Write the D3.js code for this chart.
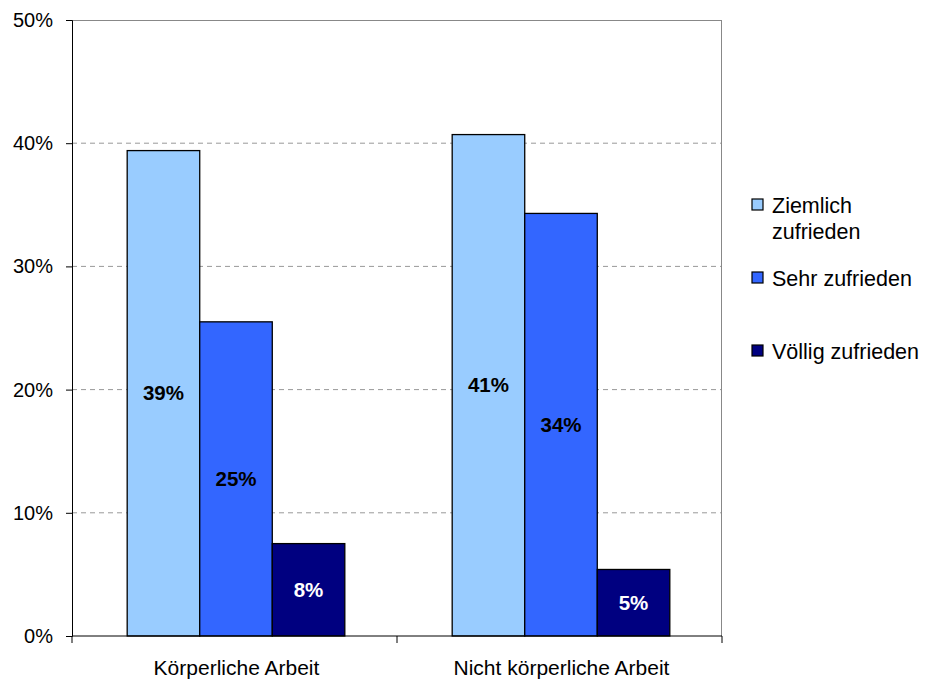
<!DOCTYPE html>
<html><head><meta charset="utf-8">
<script src="https://cdn.jsdelivr.net/npm/d3@7"></script>
<style>body{margin:0;background:#fff;} svg{display:block;font-family:"Liberation Sans",Arial,sans-serif;}</style>
</head><body>
<svg id="c" width="929" height="681"></svg>
<script>
const categories = ["Körperliche Arbeit", "Nicht körperliche Arbeit"];
const series = ["Ziemlich zufrieden", "Sehr zufrieden", "Völlig zufrieden"];
const legendLines = [["Ziemlich", "zufrieden"], ["Sehr zufrieden"], ["Völlig zufrieden"]];
const ziemlich = [39.4, 40.7];
const sehr = [25.5, 34.3];
const voellig = [7.5, 5.4];
const labels = [["39%", "41%"], ["25%", "34%"], ["8%", "5%"]];
const yTicks = [0, 10, 20, 30, 40, 50];
const colors = ["#99CCFF", "#3366FF", "#000080"];
const labelColors = ["#000", "#000", "#fff"];
const values = [ziemlich, sehr, voellig];

const svg = d3.select("#c");
const L = 72, R = 722, T = 20, B = 636;
const y = d3.scaleLinear().domain([0, 50]).range([B, T]);
const x0 = d3.scaleBand().domain(categories).range([L, R]).padding(0);
const x1 = d3.scaleBand().domain(series).range([1.5, x0.bandwidth() + 1.5]).paddingInner(0).paddingOuter(0.74);

// gridlines
svg.append("g").selectAll("line").data(yTicks.filter(t => t > 0 && t < 50)).join("line")
  .attr("x1", L).attr("x2", R).attr("y1", d => y(d)).attr("y2", d => y(d))
  .attr("stroke", "#999").attr("stroke-dasharray", "5,4").attr("stroke-width", 1);
// top & right border
svg.append("line").attr("x1", L).attr("x2", R).attr("y1", T + 0.5).attr("y2", T + 0.5).attr("stroke", "#888");
svg.append("line").attr("x1", R - 0.5).attr("x2", R - 0.5).attr("y1", T).attr("y2", B).attr("stroke", "#888");

// bars
series.forEach((s, si) => {
  const g = svg.append("g");
  g.selectAll("rect").data(categories).join("rect")
    .attr("x", c => x0(c) + x1(s))
    .attr("y", (c, ci) => y(values[si][ci]))
    .attr("width", x1.bandwidth())
    .attr("height", (c, ci) => B - y(values[si][ci]))
    .attr("fill", colors[si]).attr("stroke", "#000").attr("stroke-width", 1.3);
  g.selectAll("text").data(categories).join("text")
    .attr("x", c => x0(c) + x1(s) + x1.bandwidth() / 2)
    .attr("y", (c, ci) => (y(values[si][ci]) + B) / 2)
    .attr("dy", "0.35em").attr("text-anchor", "middle")
    .attr("font-size", 20.5).attr("font-weight", "bold")
    .attr("fill", labelColors[si])
    .text((c, ci) => labels[si][ci]);
});

// y axis
const yAxis = d3.axisLeft(y).tickValues(yTicks).tickFormat(d => d + "%").tickSize(6).tickPadding(13);
const ya = svg.append("g").attr("transform", `translate(${L},0)`).call(yAxis);
ya.select(".domain").attr("stroke", "#000");
ya.selectAll(".tick line").attr("stroke", "#000");
ya.selectAll("text").attr("font-size", 20).attr("fill", "#000").attr("font-family", "Liberation Sans, Arial, sans-serif");

// x axis
const xa = svg.append("g").attr("transform", `translate(0,${B})`);
xa.append("line").attr("x1", L).attr("x2", R).attr("stroke", "#000");
const bounds = [L, x0(categories[1]), R];
xa.selectAll("line.tk").data(bounds).join("line").attr("class", "tk")
  .attr("x1", d => d).attr("x2", d => d).attr("y1", 0).attr("y2", 7).attr("stroke", "#000");
xa.selectAll("text").data(categories).join("text")
  .attr("x", c => x0(c) + x0.bandwidth() / 2 + 2).attr("y", 39)
  .attr("text-anchor", "middle").attr("font-size", 21).attr("fill", "#000").text(c => c);

// legend
const legY = [205, 278, 351];
const lg = svg.append("g");
series.forEach((s, i) => {
  lg.append("rect").attr("x", 752).attr("y", legY[i] - 6).attr("width", 11).attr("height", 11)
    .attr("fill", colors[i]).attr("stroke", "#000").attr("stroke-width", 1.2);
  legendLines[i].forEach((t, j) => {
    lg.append("text").attr("x", 772).attr("y", legY[i] + j * 26).attr("dy", "0.35em")
      .attr("font-size", 21.5).attr("fill", "#000").text(t);
  });
});
</script>
</body></html>
